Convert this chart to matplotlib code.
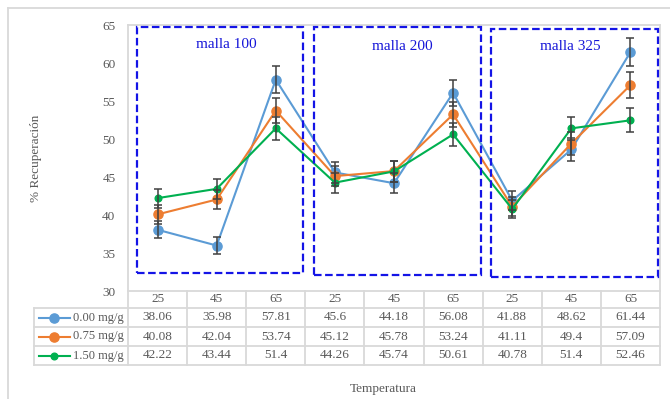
import matplotlib
matplotlib.use("Agg")
import matplotlib.pyplot as plt
from matplotlib.lines import Line2D
from matplotlib.patches import Rectangle
from matplotlib.transforms import blended_transform_factory
import numpy as np

plt.rcParams['font.family'] = ['Liberation Serif', 'DejaVu Serif']

categories = ["25", "45", "65", "25", "45", "65", "25", "45", "65"]
series_names = ["0.00 mg/g", "0.75 mg/g", "1.50 mg/g"]
s000 = [38.06, 35.98, 57.81, 45.6, 44.18, 56.08, 41.88, 48.62, 61.44]
s075 = [40.08, 42.04, 53.74, 45.12, 45.78, 53.24, 41.11, 49.4, 57.09]
s150 = [42.22, 43.44, 51.4, 44.26, 45.74, 50.61, 40.78, 51.4, 52.46]
group_labels = ["malla 100", "malla 200", "malla 325"]
err_pct = 0.03  # Excel percentage error bars

colors = ["#5B9BD5", "#ED7D31", "#00B050"]
msizes = [6.6, 6.6, 4.8]
W, H = 670, 399
GRID = "#D9D9D9"
TXT = "#595959"

fig = plt.figure(figsize=(W / 100, H / 100), dpi=100)

def fx(x):
    return x / W

def fy(y):
    return 1 - y / H

ax_l, ax_r, ax_t, ax_b = 128, 660, 25, 291
ax = fig.add_axes([fx(ax_l), fy(ax_b), (ax_r - ax_l) / W, (ax_b - ax_t) / H])
ax.set_xlim(-0.5, len(categories) - 0.5)
ax.set_ylim(30, 65)
ax.set_yticks(np.arange(30, 66, 5))
ax.set_xticks([])
ax.tick_params(axis='y', length=0, pad=9, labelsize=9.5, labelcolor=TXT)
for s in ax.spines.values():
    s.set_color(GRID)
    s.set_linewidth(1.3)

x = np.arange(len(categories))
all_series = [s000, s075, s150]
for vals, c, ms in zip(all_series, colors, msizes):
    v = np.array(vals)
    ax.plot(x, v, '-o', color=c, lw=1.5, ms=ms, zorder=3)
    ax.errorbar(x, v, yerr=v * err_pct, fmt='none', ecolor='#404040',
                elinewidth=1.1, capsize=3.0, capthick=1.1, zorder=4)

# dashed group boxes (pixel layout)
boxes = [(137, 27, 303, 273), (314, 27, 481, 275), (491, 29, 657.5, 277)]
label_pos = [(226, 44), (402, 47), (570, 46)]
for (x0, y0, x1, y1), lab, (lx, ly) in zip(boxes, group_labels, label_pos):
    r = Rectangle((fx(x0), fy(y1)), fx(x1) - fx(x0), fy(y0) - fy(y1),
                  transform=fig.transFigure, fill=False, edgecolor='#1414E6',
                  lw=1.6, ls=(0, (3.4, 1.6)), zorder=5)
    fig.add_artist(r)
    fig.text(fx(lx), fy(ly), lab, color='#1414D8', fontsize=11,
             ha='center', va='center')

# outer chart border
fig.add_artist(Line2D([fx(8), fx(670)], [fy(8), fy(8)], color=GRID, lw=1.3,
                      transform=fig.transFigure))
fig.add_artist(Line2D([fx(8), fx(8)], [fy(8), fy(399)], color=GRID, lw=1.3,
                      transform=fig.transFigure))

# data table
bt = blended_transform_factory(ax.transData, fig.transFigure)
rows_y = [291, 308, 327, 346, 365]
tab_left = 34
n = len(categories)
for i, yy in enumerate(rows_y):
    if i == 0:
        continue
    fig.add_artist(Line2D([fx(tab_left), fx(ax_r)], [fy(yy), fy(yy)],
                          color=GRID, lw=1.3, transform=fig.transFigure))
for k in range(n + 1):
    xb = k - 0.5
    fig.add_artist(Line2D([xb, xb], [fy(rows_y[0]), fy(rows_y[-1])],
                          color=GRID, lw=1.3, transform=bt))
fig.add_artist(Line2D([fx(tab_left), fx(tab_left)], [fy(rows_y[1]), fy(rows_y[-1])],
                      color=GRID, lw=1.3, transform=fig.transFigure))

hy = (rows_y[0] + rows_y[1]) / 2
for xi, cat in zip(x, categories):
    t = fig.text(0, fy(hy), cat, transform=bt, fontsize=9.5, color=TXT,
                 ha='center', va='center')
    t.set_x(xi)

for r, (name, vals, c, ms) in enumerate(zip(series_names, all_series, colors, msizes)):
    cy = (rows_y[r + 1] + rows_y[r + 2]) / 2
    fig.add_artist(Line2D([fx(39), fx(70)], [fy(cy), fy(cy)], color=c, lw=1.5,
                          transform=fig.transFigure))
    fig.add_artist(Line2D([fx(54.5)], [fy(cy)], color=c, marker='o', ms=ms,
                          transform=fig.transFigure))
    fig.text(fx(124), fy(cy), name, fontsize=9, color=TXT, ha='right', va='center')
    for xi, v in zip(x, vals):
        t = fig.text(0, fy(cy), f"{v:g}", transform=bt, fontsize=9.5,
                     color=TXT, ha='center', va='center')
        t.set_x(xi)

fig.text(fx(36), fy(158), "% Recuperación", rotation=90, fontsize=9.5,
         color=TXT, ha='center', va='center')
fig.text(fx(383), fy(389), "Temperatura", fontsize=9.5, color=TXT,
         ha='center', va='center')

fig.savefig("out.png", dpi=100)
